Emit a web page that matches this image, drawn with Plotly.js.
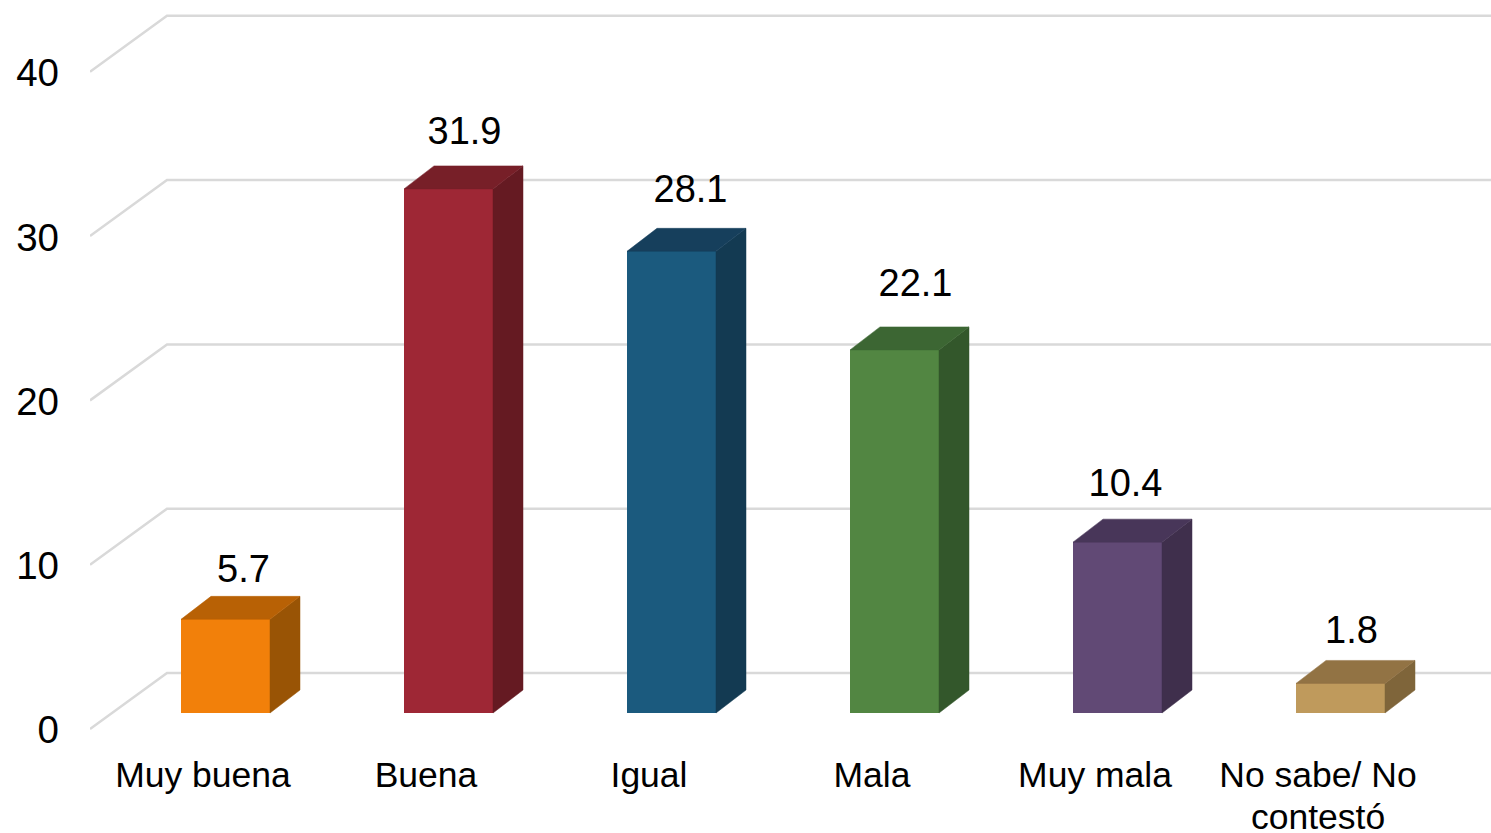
<!DOCTYPE html>
<html>
<head>
<meta charset="utf-8">
<script src="https://cdn.plot.ly/plotly-3.0.1.min.js"></script>
<style>html,body{margin:0;padding:0;background:#fff;overflow:hidden}</style>
</head>
<body>
<div id="chart" style="width:1491px;height:833px"></div>
<script>
// Data
const categoryLines = [["Muy buena"], ["Buena"], ["Igual"], ["Mala"], ["Muy mala"], ["No sabe/ No", "contestó"]];
const values = [5.7, 31.9, 28.1, 22.1, 10.4, 1.8];
const valueLabels = ["5.7", "31.9", "28.1", "22.1", "10.4", "1.8"];
const yTicks = [0, 10, 20, 30, 40];

// Styles
const frontColors = ["#F2800A", "#9E2735", "#1B5A7E", "#528642", "#614975", "#BF9A5C"];
const sideColors  = ["#995405", "#651A22", "#133A52", "#33572B", "#3F2F4C", "#7F653A"];
const topColors   = ["#B86105", "#771F28", "#163F5C", "#3C6633", "#483659", "#927344"];
const FONT = "Liberation Sans, Arial, sans-serif";

// Geometry (pixels converted to axis units)
const W = 1491, H = 833, L = 90, B = 103;
const pxX = 223, pxY = 16.43;          // pixels per category and per value unit
const x0px = 203;                      // pixel of first category label
const X = p => p / pxX, Y = p => p / pxY;
const barShift = X(22.5), barW = X(89);
const lift = Y(17);                    // bar floor above the axis baseline
const bdx = X(30), bdy = Y(23);        // bar depth
const wallStart = Y(1);                // front edge of the wall above the baseline
const wdx = X(77), wdy = Y(57);        // wall depth
const labelDx = [18, 16, 19, 21, 8, 11];
const labelDy = [24, 31, 36, 40, 33, 27];

const traces = [];
const xLeft = (L - x0px) / pxX, xRight = (W - x0px) / pxX;

// Wall + back gridlines, kept below the traces
const gridShapes = yTicks.map(t => ({
  type: "path", layer: "below", xref: "x", yref: "y",
  path: `M ${xLeft} ${t + wallStart} L ${xLeft + wdx} ${t + wdy} L ${xRight} ${t + wdy}`,
  line: {color: "#D9D9D9", width: 2.5}
}));

// Front faces
traces.push({
  type: "bar", x: values.map((v, i) => i + barShift), y: values,
  base: lift, width: barW, showlegend: false,
  marker: {color: frontColors, line: {width: 0}}
});

// Side and top faces
values.forEach((v, i) => {
  const r = i + barShift + barW / 2, l = i + barShift - barW / 2, top = lift + v;
  traces.push({
    type: "scatter", mode: "lines", fill: "toself", hoverinfo: "skip", showlegend: false,
    x: [r, r + bdx, r + bdx, r, r], y: [lift, lift + bdy, top + bdy, top, lift],
    fillcolor: sideColors[i], line: {color: sideColors[i], width: 0.5}
  });
  traces.push({
    type: "scatter", mode: "lines", fill: "toself", hoverinfo: "skip", showlegend: false,
    x: [l, r, r + bdx, l + bdx, l], y: [top, top, top + bdy, top + bdy, top],
    fillcolor: topColors[i], line: {color: topColors[i], width: 0.5}
  });
});

// Value labels
traces.push({
  type: "scatter", mode: "text", hoverinfo: "skip", showlegend: false,
  x: values.map((v, i) => i + barShift + X(labelDx[i])),
  y: values.map((v, i) => lift + v + bdy + Y(labelDy[i])),
  text: valueLabels, textposition: "middle center",
  textfont: {family: FONT, size: 38, color: "#000"}, cliponaxis: false
});

// Second line of a wrapped category label
const wrapAnnotations = [];
categoryLines.forEach((lines, i) => {
  if (lines[1]) wrapAnnotations.push({
    xref: "x", yref: "paper", x: i, y: 0, yanchor: "top", yshift: -65,
    text: lines[1], showarrow: false, xanchor: "center",
    font: {family: FONT, size: 35.5, color: "#000"}
  });
});

const layout = {
  width: W, height: H,
  margin: {l: L, r: 0, t: 0, b: B, pad: 0},
  paper_bgcolor: "#fff", plot_bgcolor: "#fff",
  showlegend: false, bargap: 0,
  font: {family: FONT, size: 36, color: "#000"},
  shapes: gridShapes,
  annotations: wrapAnnotations,
  xaxis: {
    range: [xLeft, xRight], tickmode: "array",
    tickvals: categoryLines.map((c, i) => i), ticktext: categoryLines.map(c => c[0]),
    showgrid: false, zeroline: false, showline: false, ticks: "",
    tickangle: 0, automargin: false, ticklabelstandoff: 20,
    tickfont: {family: FONT, size: 35.5, color: "#000"}
  },
  yaxis: {
    range: [0, (H - B) / pxY], tickmode: "array",
    tickvals: yTicks, ticktext: yTicks.map(String),
    showgrid: false, zeroline: false, showline: false, ticks: "",
    automargin: false, ticklabelstandoff: 30,
    tickfont: {family: FONT, size: 38.5, color: "#000"}
  }
};
Plotly.newPlot("chart", traces, layout, {displayModeBar: false, responsive: false});
</script>
</body>
</html>
